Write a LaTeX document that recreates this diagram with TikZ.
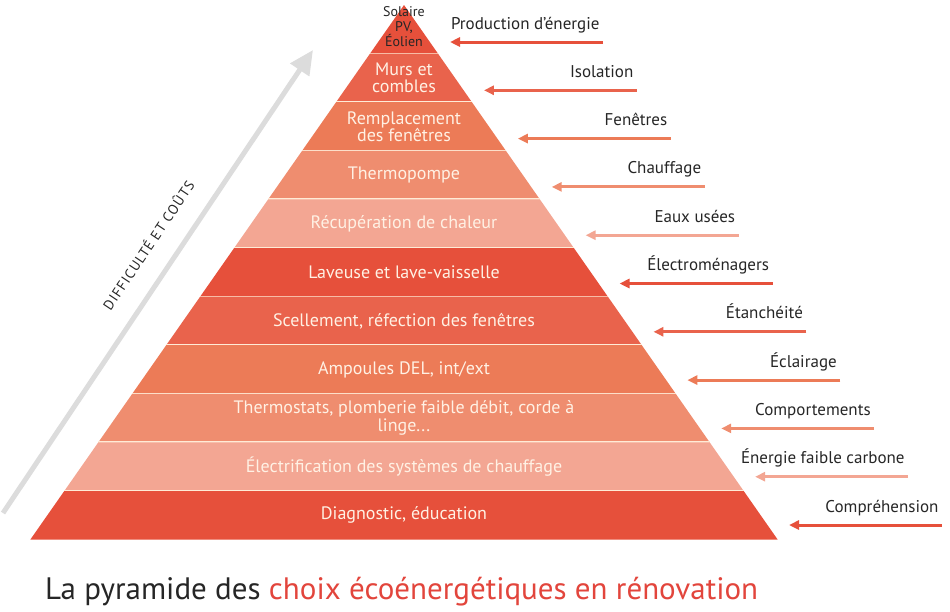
\documentclass[tikz,border=0pt]{standalone}
\usepackage{fontspec}
\setmainfont{PT Sans}
\usetikzlibrary{arrows.meta}
\definecolor{pyrA}{HTML}{E6503B}
\definecolor{pyrB}{HTML}{E9634C}
\definecolor{pyrC}{HTML}{EC7B57}
\definecolor{pyrD}{HTML}{EF8D6F}
\definecolor{pyrE}{HTML}{F3A693}
\definecolor{gapline}{HTML}{FFEBD6}
\definecolor{labeltext}{HTML}{FFF1E4}
\definecolor{titlered}{HTML}{E2453C}
\definecolor{axisgray}{HTML}{DCDCDC}
\begin{document}
\begin{tikzpicture}[x=1pt,y=-1pt,
  layertext/.style={text=labeltext,font=\fontsize{18}{17.5}\selectfont,align=center},
  sidetext/.style={text=black!85,font=\fontsize{17}{19}\selectfont,anchor=base east},
  pointer/.style={line width=3pt,-{Triangle[length=10pt,width=9pt]}}]
\useasboundingbox (0,0) rectangle (950,611);
% Layers of the pyramid
\foreach \i/\col/\txt in {1/pyrA/{},2/pyrB/{Murs et\\combles},3/pyrC/{Remplacement\\des fenêtres},
    4/pyrD/{Thermopompe},5/pyrE/{Récupération de chaleur},6/pyrA/{Laveuse et lave-vaisselle},
    7/pyrB/{Scellement, réfection des fenêtres},8/pyrC/{Ampoules DEL, int/ext},
    9/pyrD/{Thermostats, plomberie faible débit, corde à\\linge...},
    10/pyrE/{Électrification des systèmes de chauffage},11/pyrA/{Diagnostic, éducation}}{
  \pgfmathsetmacro\yt{5+48.6*(\i-1)}
  \pgfmathsetmacro\yb{5+48.6*\i}
  \pgfmathsetmacro\wt{0.699*(\yt-5)}
  \pgfmathsetmacro\wb{0.699*(\yb-5)}
  \fill[\col] (404-\wt,\yt) -- (404+\wt,\yt) -- (404+\wb,\yb) -- (404-\wb,\yb) -- cycle;
  \ifnum\i<11
    \draw[gapline,line width=2pt] (404-\wb,\yb) -- (404+\wb,\yb);
  \fi
  \node[layertext] (layer\i) at (404,{(\yt+\yb)/2}) {\txt};
}
% Top of the pyramid
\node[align=center,font=\fontsize{14}{15}\selectfont,text=black!85] (top) at (404,27) {Solaire\\PV,\\Éolien};
% Pointers on the right
\foreach \i/\col/\txt in {1/pyrA/{Production d’énergie},2/pyrB/{Isolation},3/pyrC/{Fenêtres},
    4/pyrD/{Chauffage},5/pyrE/{Eaux usées},6/pyrA/{Électroménagers},7/pyrB/{Étanchéité},
    8/pyrC/{Éclairage},9/pyrD/{Comportements},10/pyrE/{Énergie faible carbone},11/pyrA/{Compréhension}}{
  \pgfmathsetmacro\ya{42+48.3*(\i-1)}
  \pgfmathsetmacro\xa{450+33.9*(\i-1)}
  \coordinate (tip\i) at (\xa,\ya);
  \coordinate (end\i) at (\xa+153,\ya);
  \draw[pointer,\col] (end\i) -- (tip\i);
  \node[sidetext] (side\i) at (\xa+153,\ya-13) {\txt};
}
% Difficulty axis
\coordinate (axis0) at (3,513);
\coordinate (axis1) at (313,50);
\draw[axisgray,line width=5pt,-{Triangle[length=24pt,width=22pt]}] (axis0) -- (axis1);
\node[rotate=56.2,text=black!85,font=\fontsize{14}{16}\selectfont\addfontfeatures{LetterSpace=8}] (axislabel) at (148,245) {DIFFICULTÉ ET COÛTS};
% Title
\node[anchor=base west,font=\fontsize{31}{34}\selectfont,text=black!85,inner sep=0pt] (title) at (45,599)
  {La pyramide des \textcolor{titlered}{choix écoénergétiques en rénovation}};
\end{tikzpicture}
\end{document}
